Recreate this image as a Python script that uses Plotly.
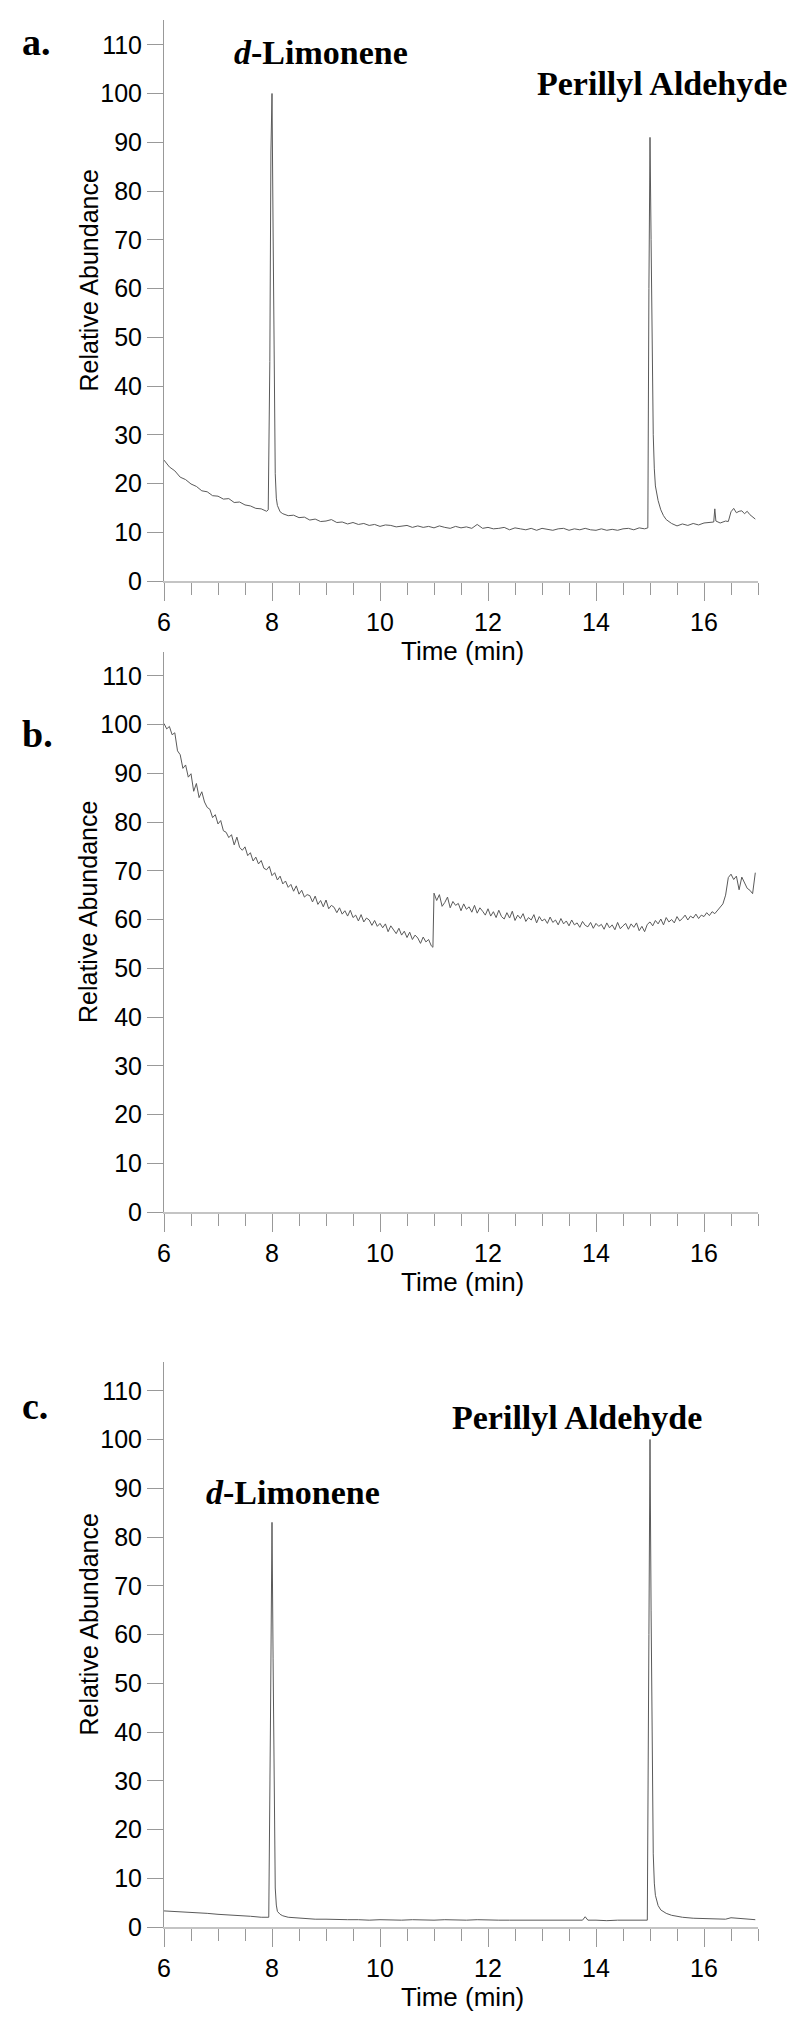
import plotly.graph_objects as go

# ---------------- data ----------------
time_a = [6.0, 6.1, 6.2, 6.3, 6.4, 6.5, 6.6, 6.7, 6.8, 6.9, 7.0, 7.1, 7.2, 7.3, 7.4, 7.5, 7.6, 7.7, 7.8, 7.9,
          7.93, 7.96, 7.98, 8.0, 8.02, 8.04, 8.06, 8.08, 8.1, 8.15, 8.2, 8.3, 8.4, 8.5, 8.6, 8.7, 8.8, 8.9,
          9.0, 9.1, 9.2, 9.3, 9.4, 9.5, 9.6, 9.7, 9.8, 9.9, 10.0, 10.1, 10.2, 10.3, 10.4, 10.5, 10.6, 10.7,
          10.8, 10.9, 11.0, 11.1, 11.2, 11.3, 11.4, 11.5, 11.6, 11.7, 11.8, 11.9, 12.0, 12.1, 12.2, 12.3,
          12.4, 12.5, 12.6, 12.7, 12.8, 12.9, 13.0, 13.1, 13.2, 13.3, 13.4, 13.5, 13.6, 13.7, 13.8, 13.9,
          14.0, 14.1, 14.2, 14.3, 14.4, 14.5, 14.6, 14.7, 14.8, 14.9, 14.96, 14.98, 15.0, 15.02, 15.04,
          15.06, 15.08, 15.1, 15.15, 15.2, 15.25, 15.3, 15.4, 15.5, 15.6, 15.7, 15.8, 15.9, 16.0, 16.1,
          16.18, 16.2, 16.22, 16.3, 16.4, 16.45, 16.5, 16.55, 16.6, 16.65, 16.7, 16.75, 16.8, 16.85,
          16.9, 16.95]
abund_a = [24.8, 23.4, 22.6, 21.3, 20.8, 19.9, 19.4, 18.5, 18.3, 17.5, 17.4, 16.8, 16.9, 16.1, 16.2, 15.6,
           15.4, 14.9, 14.8, 14.3,
           14.6, 45, 88, 100, 72, 38, 22, 17, 15.5, 14.2, 13.8, 13.4, 13.5, 13.0, 13.1, 12.5, 12.7, 12.2,
           12.3, 12.6, 12.0, 12.1, 11.7, 12.0, 11.6, 11.8, 11.4, 11.6, 11.2, 11.5, 11.4, 11.1, 11.3, 11.4,
           11.0, 11.3, 11.0, 11.2, 10.9, 11.3, 11.0, 10.8, 11.2, 10.9, 11.1, 10.8, 11.6, 10.8, 11.0, 10.7,
           10.8, 11.0, 10.5, 10.9, 10.7, 10.5, 10.8, 10.4, 10.8, 10.6, 10.4, 10.7, 10.8, 10.4, 10.7, 10.5,
           10.8, 10.5, 10.4, 10.7, 10.4, 10.6, 10.4, 10.7, 10.8, 10.5, 10.9, 10.7, 10.9, 60, 91, 70, 42,
           30, 23, 19.5, 16.5, 14.6, 13.4, 12.6, 11.8, 11.3, 11.7, 11.4, 11.8, 11.5, 11.9, 12.0,
           12.1, 14.8, 12.3, 11.9, 12.3, 12.2, 14.2, 14.9, 14.0, 14.3, 14.4, 13.8, 14.3, 13.6,
           13.2, 12.7]

time_b = [6.0, 6.05, 6.1, 6.15, 6.2, 6.25, 6.3, 6.35, 6.4, 6.45, 6.5, 6.55, 6.6, 6.65, 6.7, 6.75, 6.8,
          6.85, 6.9, 6.95, 7.0, 7.05, 7.1, 7.15, 7.2, 7.25, 7.3, 7.35, 7.4, 7.45, 7.5, 7.55, 7.6, 7.65,
          7.7, 7.75, 7.8, 7.85, 7.9, 7.95, 8.0, 8.05, 8.1, 8.15, 8.2, 8.25, 8.3, 8.35, 8.4, 8.45, 8.5,
          8.55, 8.6, 8.65, 8.7, 8.75, 8.8, 8.85, 8.9, 8.95, 9.0, 9.05, 9.1, 9.15, 9.2, 9.25, 9.3, 9.35,
          9.4, 9.45, 9.5, 9.55, 9.6, 9.65, 9.7, 9.75, 9.8, 9.85, 9.9, 9.95, 10.0, 10.05, 10.1, 10.15,
          10.2, 10.25, 10.3, 10.35, 10.4, 10.45, 10.5, 10.55, 10.6, 10.65, 10.7, 10.75, 10.8, 10.85,
          10.9, 10.95, 10.98, 11.0, 11.05, 11.1, 11.15, 11.2, 11.25, 11.3, 11.35, 11.4, 11.45, 11.5,
          11.55, 11.6, 11.65, 11.7, 11.75, 11.8, 11.85, 11.9, 11.95, 12.0, 12.05, 12.1, 12.15, 12.2,
          12.25, 12.3, 12.35, 12.4, 12.45, 12.5, 12.55, 12.6, 12.65, 12.7, 12.75, 12.8, 12.85, 12.9,
          12.95, 13.0, 13.05, 13.1, 13.15, 13.2, 13.25, 13.3, 13.35, 13.4, 13.45, 13.5, 13.55, 13.6,
          13.65, 13.7, 13.75, 13.8, 13.85, 13.9, 13.95, 14.0, 14.05, 14.1, 14.15, 14.2, 14.25, 14.3,
          14.35, 14.4, 14.45, 14.5, 14.55, 14.6, 14.65, 14.7, 14.75, 14.8, 14.85, 14.9, 14.95, 15.0,
          15.05, 15.1, 15.15, 15.2, 15.25, 15.3, 15.35, 15.4, 15.45, 15.5, 15.55, 15.6, 15.65, 15.7,
          15.75, 15.8, 15.85, 15.9, 15.95, 16.0, 16.05, 16.1, 16.15, 16.2, 16.25, 16.3, 16.35, 16.4,
          16.45, 16.5, 16.55, 16.6, 16.65, 16.7, 16.75, 16.8, 16.85, 16.9, 16.95]
abund_b = [100.2, 99.1, 99.6, 97.9, 98.3, 94.6, 93.8, 91.0, 91.7, 89.2, 89.9, 86.3, 87.9, 85.0, 86.2, 84.1,
           83.0, 82.6, 80.9, 81.5, 79.6, 80.3, 78.2, 77.9, 76.8, 77.4, 75.3, 76.9, 74.8, 74.2, 74.9, 73.1,
           73.7, 72.0, 72.8, 71.4, 72.1, 70.5, 70.2, 70.9, 69.0, 69.6, 68.1, 68.9, 67.3, 67.9, 66.6, 67.2,
           65.8, 66.9, 65.2, 66.0, 64.6, 65.1, 64.9, 63.6, 64.8, 63.1, 63.9, 62.6, 64.0, 62.2, 62.9, 62.5,
           61.4, 62.4, 61.1, 61.8, 60.7, 61.9, 60.4, 60.9, 59.7, 61.0, 59.5, 60.3, 59.9, 58.8, 59.8, 58.6,
           59.2, 58.3, 59.1, 57.5, 58.7, 57.9, 57.1, 58.2, 56.8, 57.6, 56.3, 57.4, 55.9, 56.8, 56.2, 55.1,
           56.4, 55.4, 55.9, 54.6, 54.3, 65.4, 63.9, 65.1, 62.7, 63.5, 64.6, 62.4, 63.7, 62.9, 63.3, 61.8,
           63.2, 62.1, 62.6, 61.5, 62.9, 61.3, 62.4, 61.7, 60.9, 62.2, 60.7, 61.6, 60.4, 61.9, 60.6, 60.1,
           61.4, 60.3, 61.7, 59.8, 60.9, 60.2, 61.2, 59.6, 60.4, 59.9, 61.0, 59.3, 60.6, 59.7, 60.1, 59.2,
           60.5, 59.4, 59.9, 58.9, 60.2, 59.1, 59.7, 58.7, 59.9, 58.9, 59.3, 58.4, 59.6, 58.8, 58.5, 59.4,
           58.2, 59.2, 58.6, 59.0, 58.0, 59.3, 58.3, 58.9, 57.9, 59.4, 58.1, 58.7, 59.2, 58.0, 59.1, 58.4,
           59.3, 57.7, 58.6, 57.5, 59.0, 59.5, 58.7, 59.8, 59.1, 60.1, 58.9, 60.4, 59.5, 60.0, 59.3, 60.6,
           59.7, 60.2, 60.9, 59.9, 60.7, 60.3, 61.1, 60.2, 60.9, 60.6, 61.4, 60.8, 61.6, 61.2, 61.9, 62.4,
           63.2, 65.0, 68.6, 69.3, 68.2, 68.9, 66.1, 68.7, 67.6, 66.4, 66.0, 65.3, 69.6]

time_c = [6.0, 6.2, 6.4, 6.6, 6.8, 7.0, 7.2, 7.4, 7.6, 7.8, 7.9, 7.94, 7.97, 8.0, 8.02, 8.04, 8.06, 8.08,
          8.1, 8.15, 8.2, 8.3, 8.4, 8.5, 8.6, 8.8, 9.0, 9.2, 9.4, 9.6, 9.8, 10.0, 10.2, 10.4, 10.6, 10.8,
          11.0, 11.2, 11.4, 11.6, 11.8, 12.0, 12.2, 12.4, 12.6, 12.8, 13.0, 13.2, 13.4, 13.6, 13.75, 13.8,
          13.85, 14.0, 14.2, 14.4, 14.6, 14.8, 14.95, 14.98, 15.0, 15.02, 15.04, 15.06, 15.08, 15.1,
          15.15, 15.2, 15.3, 15.4, 15.5, 15.6, 15.8, 16.0, 16.2, 16.4, 16.5, 16.6, 16.7, 16.8, 16.9, 16.95]
abund_c = [3.3, 3.2, 3.1, 2.9, 2.8, 2.6, 2.5, 2.3, 2.2, 2.0, 1.9, 2.0, 40, 83, 55, 22, 8, 4.5,
           3.2, 2.6, 2.3, 2.0, 1.9, 1.8, 1.7, 1.6, 1.6, 1.5, 1.5, 1.5, 1.4, 1.5, 1.4, 1.4, 1.5, 1.4,
           1.4, 1.5, 1.4, 1.4, 1.5, 1.4, 1.4, 1.4, 1.4, 1.4, 1.4, 1.4, 1.4, 1.4, 1.4, 2.1,
           1.4, 1.4, 1.3, 1.4, 1.4, 1.4, 1.4, 60, 100, 65, 30, 15, 9, 6.5,
           4.4, 3.5, 2.8, 2.4, 2.2, 2.0, 1.8, 1.7, 1.6, 1.6, 1.9, 1.8, 1.8, 1.7, 1.6, 1.5]

x_ticks = [6, 8, 10, 12, 14, 16]
y_ticks = [0, 10, 20, 30, 40, 50, 60, 70, 80, 90, 100, 110]

panel_labels = ["a.", "b.", "c."]

# ---------------- layout helpers (pixel geometry) ----------------
W, H = 800, 2022
def py(pix):
    return 1 - pix / H
def px(pix):
    return pix / W

X_DOM = [px(164), px(758)]
# (pixel row of y=0, pixel row of axis top) per panel
panels = [(581, 20), (1212, 652), (1927, 1362)]
PX_PER_UNIT = 4.875

SANS = "Liberation Sans, Arial, sans-serif"
SERIF = "Liberation Serif, Times New Roman, serif"

fig = go.Figure()
series = [(time_a, abund_a), (time_b, abund_b), (time_c, abund_c)]
for i, (t, a) in enumerate(series):
    suffix = "" if i == 0 else str(i + 1)
    fig.add_trace(go.Scatter(x=t, y=a, mode="lines", xaxis="x" + suffix, yaxis="y" + suffix,
                             line=dict(color="#5a5a5a", width=1), showlegend=False,
                             hoverinfo="skip"))

layout = dict(width=W, height=H, margin=dict(l=0, r=0, t=0, b=0),
              paper_bgcolor="white", plot_bgcolor="white", showlegend=False)

annotations = []
for i, (bot, top) in enumerate(panels):
    suffix = "" if i == 0 else str(i + 1)
    ymax = (bot - top) / PX_PER_UNIT
    layout["xaxis" + suffix] = dict(
        domain=X_DOM, range=[6, 17], anchor="y" + suffix, automargin=False,
        tickmode="array", tickvals=x_ticks, ticktext=[str(v) for v in x_ticks],
        ticks="outside", ticklen=18, tickwidth=1, tickcolor="#999999",
        minor=dict(ticks="outside", ticklen=12, tickwidth=1, tickcolor="#999999", dtick=0.5, tick0=6,
                   showgrid=False),
        showline=True, linecolor="#c4c4c4", linewidth=2,
        showgrid=False, zeroline=False,
        tickfont=dict(family=SANS, size=25, color="black"),
    )
    layout["yaxis" + suffix] = dict(
        domain=[py(bot), py(top)], range=[0, ymax], anchor="x" + suffix, automargin=False,
        tickmode="array", tickvals=y_ticks, ticktext=[str(v) for v in y_ticks],
        ticks="outside", ticklen=16, tickwidth=1, tickcolor="#999999",
        showline=True, linecolor="#999999", linewidth=1,
        showgrid=False, zeroline=False,
        tickfont=dict(family=SANS, size=25, color="black"),
    )
    mid = (bot + top) / 2
    annotations.append(dict(text="Relative Abundance", textangle=-90, xref="paper", yref="paper",
                            x=px(88), y=py(mid - 20), xanchor="center", yanchor="middle",
                            showarrow=False, font=dict(family=SANS, size=25, color="black")))
    annotations.append(dict(text="Time (min)", xref="paper", yref="paper",
                            x=px(462), y=py(bot + 70), xanchor="center", yanchor="middle",
                            showarrow=False, font=dict(family=SANS, size=26, color="black")))

label_pos = [42, 734, 1406]
for lab, ypix in zip(panel_labels, label_pos):
    annotations.append(dict(text="<b>" + lab + "</b>", xref="paper", yref="paper",
                            x=px(20), y=py(ypix), xanchor="left", yanchor="middle",
                            showarrow=False, font=dict(family=SERIF, size=38, color="black")))

compound_labels = [
    ("<b><i>d</i>-Limonene</b>", 321, 52),
    ("<b>Perillyl Aldehyde</b>", 662, 84),
    ("<b><i>d</i>-Limonene</b>", 293, 1492),
    ("<b>Perillyl Aldehyde</b>", 577, 1417),
]
for txt, xp, yp in compound_labels:
    annotations.append(dict(text=txt, xref="paper", yref="paper", x=px(xp), y=py(yp),
                            xanchor="center", yanchor="middle", showarrow=False,
                            font=dict(family=SERIF, size=34, color="black")))

layout["annotations"] = annotations
fig.update_layout(**layout)
fig.write_html("out.html", config={"displayModeBar": False, "staticPlot": True},
               post_script="document.body.style.margin='0';document.body.style.overflow='hidden';")
